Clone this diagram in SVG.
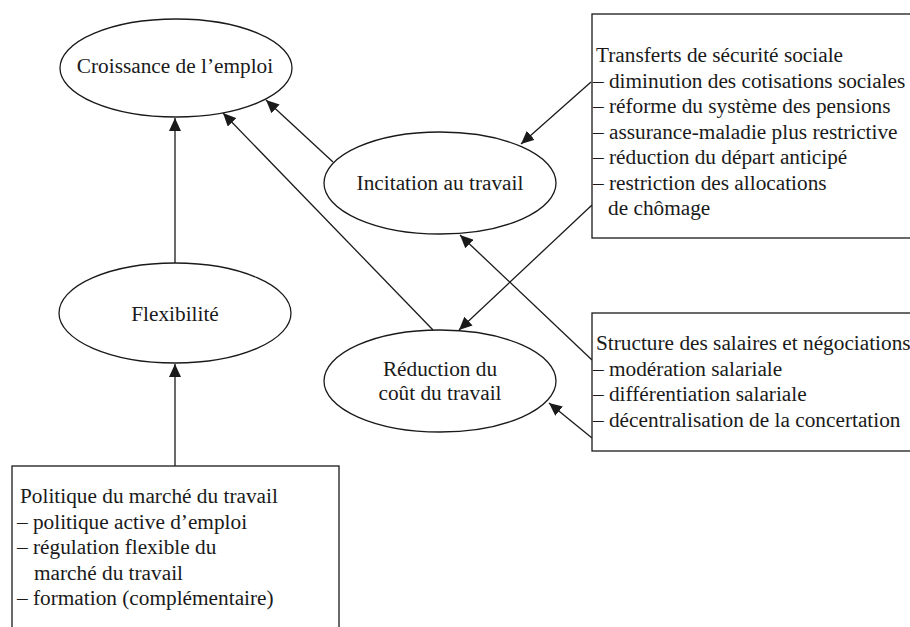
<svg xmlns="http://www.w3.org/2000/svg" width="910" height="627" viewBox="0 0 910 627">
<defs>
<style>
.shape{fill:#fff;stroke:#1a1a1a;stroke-width:1.3}
.conn{fill:none;stroke:#1a1a1a;stroke-width:1.3;marker-end:url(#ah)}
.t{font-family:'Liberation Serif','Times New Roman','DejaVu Serif',serif;font-size:21.3px;fill:#1a1a1a}
.c{text-anchor:middle}
</style>
<marker id="ah" markerUnits="userSpaceOnUse" markerWidth="14" markerHeight="12" refX="13" refY="6" orient="auto">
<path d="M0,0 L13,6 L0,12 z" fill="#1a1a1a"/>
</marker>
</defs>
<rect width="910" height="627" fill="#fff"/>
<g id="connectors">
<line class="conn" x1="175" y1="263" x2="175" y2="118"/>
<line class="conn" x1="175" y1="466" x2="175" y2="364"/>
<line class="conn" x1="333" y1="162" x2="266" y2="100"/>
<line class="conn" x1="433" y1="330" x2="223" y2="113"/>
<line class="conn" x1="591" y1="82" x2="521" y2="144"/>
<line class="conn" x1="592" y1="205" x2="459" y2="330"/>
<line class="conn" x1="592" y1="360" x2="460" y2="235"/>
<line class="conn" x1="592" y1="438" x2="549" y2="403"/>
</g>
<g id="croissance" class="t" font-family="Liberation Serif, serif">
<ellipse class="shape" cx="176" cy="68" rx="116" ry="49"/>
<text class="c" x="175" y="73">Croissance de l’emploi</text>
</g>
<g id="flexibilite" class="t" font-family="Liberation Serif, serif">
<ellipse class="shape" cx="175" cy="313" rx="116" ry="50"/>
<text class="c" x="175" y="321">Flexibilité</text>
</g>
<g id="incitation" class="t" font-family="Liberation Serif, serif">
<ellipse class="shape" cx="440" cy="183" rx="116" ry="51"/>
<text class="c" x="440" y="190">Incitation au travail</text>
</g>
<g id="reduction" class="t" font-family="Liberation Serif, serif">
<ellipse class="shape" cx="440" cy="381" rx="116" ry="51"/>
<text class="c" x="440" y="376">Réduction du</text>
<text class="c" x="440" y="400">coût du travail</text>
</g>
<g id="transferts" class="t" font-family="Liberation Serif, serif">
<rect class="shape" x="592" y="14" width="330" height="224"/>
<text x="596" y="62">Transferts de sécurité sociale</text>
<text x="593" y="87.5">– diminution des cotisations sociales</text>
<text x="593" y="113">– réforme du système des pensions</text>
<text x="593" y="138.5">– assurance-maladie plus restrictive</text>
<text x="593" y="164">– réduction du départ anticipé</text>
<text x="593" y="189.5">– restriction des allocations</text>
<text x="608" y="215">de chômage</text>
</g>
<g id="structure" class="t" font-family="Liberation Serif, serif">
<rect class="shape" x="592" y="313" width="330" height="138"/>
<text x="596" y="350">Structure des salaires et négociations</text>
<text x="593" y="375.5">– modération salariale</text>
<text x="593" y="401">– différentiation salariale</text>
<text x="593" y="426.5">– décentralisation de la concertation</text>
</g>
<g id="politique" class="t" font-family="Liberation Serif, serif">
<rect class="shape" x="12" y="466" width="327" height="180"/>
<text x="20" y="503">Politique du marché du travail</text>
<text x="17" y="528.5">– politique active d’emploi</text>
<text x="17" y="554">– régulation flexible du</text>
<text x="34" y="579.5">marché du travail</text>
<text x="17" y="605">– formation (complémentaire)</text>
</g>
</svg>
